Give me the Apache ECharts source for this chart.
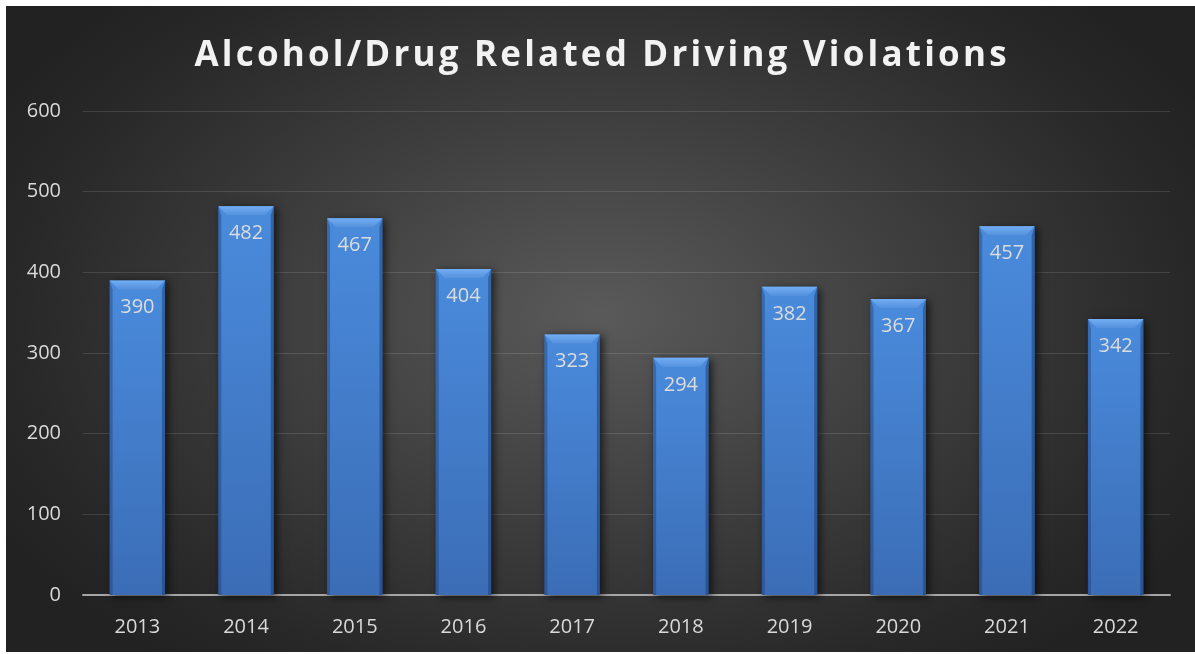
<!DOCTYPE html>
<html><head><meta charset="utf-8">
<script src="https://cdn.jsdelivr.net/npm/echarts@6/dist/echarts.min.js"></script>
<style>
html,body{margin:0;padding:0;background:#fff;width:1195px;height:654px;overflow:hidden}
#c{position:absolute;left:6px;top:6px;width:1189px;height:646px;
background:radial-gradient(ellipse 58% 68% at 50% 48%, #5a5a5a 0%, #3f3f3f 45%, #282828 85%, #222 100%);}
</style></head>
<body><div id="c"></div>
<script>
const titleText = 'Alcohol/Drug Related Driving Violations';
const years = ['2013','2014','2015','2016','2017','2018','2019','2020','2021','2022'];
const violations = [390,482,467,404,323,294,382,367,457,342];
const yTicks = [0,100,200,300,400,500,600];

const chart = echarts.init(document.getElementById('c'), null, {renderer:'canvas'});
const labelColor = '#d9d9d9';
const font = '"Open Sans", "Liberation Sans", sans-serif';

// Title with letter spacing: lay out characters one by one using text measurement
const titleFont = 'bold 35px ' + font;
const letterSpacing = 3.2;
const mctx = document.createElement('canvas').getContext('2d');
mctx.font = titleFont;
const chars = Array.from(titleText);
const widths = chars.map(ch => mctx.measureText(ch).width);
const totalW = widths.reduce((a,b)=>a+b,0) + letterSpacing*(chars.length-1);
const W = 1189;
let cx = (W - totalW)/2;
const titleEls = chars.map((ch,i)=>{
  const el = {type:'text', x:cx, y:50, style:{text:ch, font:titleFont, fill:'#f2f2f2',
    textVerticalAlign:'middle', verticalAlign:'middle', align:'left',
    shadowColor:'rgba(0,0,0,0.75)', shadowBlur:4, shadowOffsetX:1, shadowOffsetY:2}};
  cx += widths[i] + letterSpacing;
  return el;
});

function renderBar(params, api){
  const i = api.value(0), v = api.value(1);
  const top = api.coord([i, v]);
  const bot = api.coord([i, 0]);
  const w = api.size([1,0])[0]*0.51;
  const x0 = top[0]-w/2, x1 = top[0]+w/2, y0 = top[1], y1 = bot[1];
  const b = 9, e = 3;
  return {type:'group', children:[
    {type:'rect', shape:{x:x0,y:y0,width:w,height:y1-y0},
     style:{fill:new echarts.graphic.LinearGradient(0,0,0,1,[{offset:0,color:'#4a8bdc'},{offset:1,color:'#3b6db6'}]),
       shadowBlur:8, shadowColor:'rgba(0,0,0,0.65)', shadowOffsetX:3, shadowOffsetY:2}},
    {type:'polygon', shape:{points:[[x0,y0],[x0+e,y0+b],[x0+e,y1],[x0,y1]]},
     style:{fill:'rgba(20,50,100,0.35)'}},
    {type:'polygon', shape:{points:[[x1,y0],[x1-e,y0+b],[x1-e,y1],[x1,y1]]},
     style:{fill:'rgba(20,50,100,0.45)'}},
    {type:'polygon', shape:{points:[[x0,y0],[x1,y0],[x1-b,y0+b],[x0+b,y0+b]]},
     style:{fill:new echarts.graphic.LinearGradient(0,0,0,1,[{offset:0,color:'#72aef5'},{offset:1,color:'#5590dc'}])}},
    {type:'text', style:{text:String(v), x:top[0], y:y0+27, align:'center', verticalAlign:'middle',
       fill:'#dcdcdc', font:'20px '+font}}
  ]};
}

chart.setOption({
  backgroundColor:'transparent',
  animation:false,
  graphic:{elements:titleEls},
  grid:{left:77, right:25, top:105, bottom:57},
  xAxis:{type:'category', data:years,
    axisLine:{lineStyle:{color:'#a6a6a6', width:2}},
    axisTick:{show:false},
    axisLabel:{color:labelColor, fontSize:20, fontFamily:font, margin:22}},
  yAxis:{type:'value', min:yTicks[0], max:yTicks[yTicks.length-1], interval:100,
    axisLine:{show:false}, axisTick:{show:false},
    splitLine:{lineStyle:{color:'rgba(255,255,255,0.12)', width:1}},
    axisLabel:{color:labelColor, fontSize:20, fontFamily:font, margin:22}},
  series:[{type:'custom', renderItem:renderBar, encode:{x:0,y:1},
    data: violations.map((v,i)=>[i,v])}]
});
</script></body></html>
